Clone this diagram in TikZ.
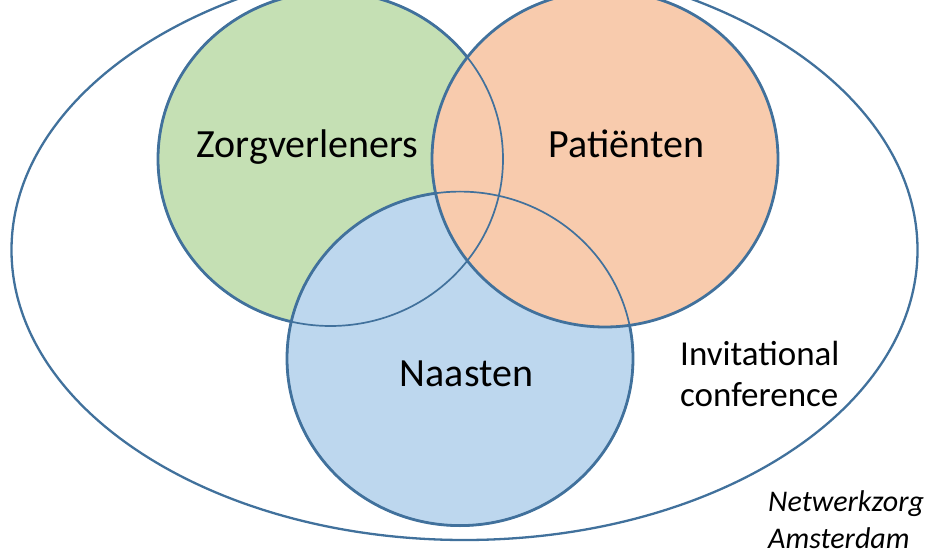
\documentclass[tikz,border=0pt]{standalone}
\usepackage{fontspec}
\setmainfont{Carlito}
\definecolor{edgeblue}{HTML}{41719C}
\definecolor{greenfill}{HTML}{C5E0B4}
\definecolor{orangefill}{HTML}{F8CBAD}
\definecolor{bluefill}{HTML}{BDD7EE}
\tikzset{
  setshape/.style={draw=edgeblue, line width=2.8pt},
  innerline/.style={draw=edgeblue, line width=1.7pt},
  outershape/.style={draw=edgeblue, line width=2.3pt},
  biglabel/.style={inner sep=0pt, anchor=base, font=\fontsize{40}{48}\selectfont},
  midlabel/.style={inner sep=0pt, anchor=base west, font=\fontsize{35}{42}\selectfont},
  smalllabel/.style={inner sep=0pt, anchor=base west, font=\fontsize{30}{36}\selectfont\itshape}
}
\begin{document}
\begin{tikzpicture}[x=1pt, y=-1pt]
  \useasboundingbox (0,0) rectangle (926,553);
  \coordinate (outerc) at (464.5,250);
  \coordinate (greenc) at (330.5,159);
  \coordinate (bluec) at (460,358.6);
  \coordinate (orangec) at (605,159);
  % outer ellipse
  \path[outershape] (outerc) ellipse [x radius=453pt, y radius=290pt];
  % filled sets
  \path[setshape, fill=greenfill] (greenc) ellipse [x radius=172.5pt, y radius=167pt];
  \path[setshape, fill=bluefill] (bluec) ellipse [x radius=173pt, y radius=167pt];
  \path[setshape, fill=orangefill] (orangec) ellipse [x radius=173pt, y radius=168pt];
  % visible inner outlines
  \path[innerline] (greenc) ellipse [x radius=172.5pt, y radius=167pt];
  \path[innerline] (bluec) ellipse [x radius=173pt, y radius=167pt];
  % labels
  \node[biglabel] (zorg) at (307.5,157.7) {Zorgverleners};
  \node[biglabel] (pat) at (626.5,157.7) {Patiënten};
  \node[biglabel] (naa) at (466.5,386.7) {Naasten};
  \node[midlabel] (inv1) at (680,365) {Invitational};
  \node[midlabel] (inv2) at (680,406) {conference};
  \node[smalllabel] (net1) at (768,511.7) {Netwerkzorg};
  \node[smalllabel] (net2) at (768,548.3) {Amsterdam};
\end{tikzpicture}
\end{document}
